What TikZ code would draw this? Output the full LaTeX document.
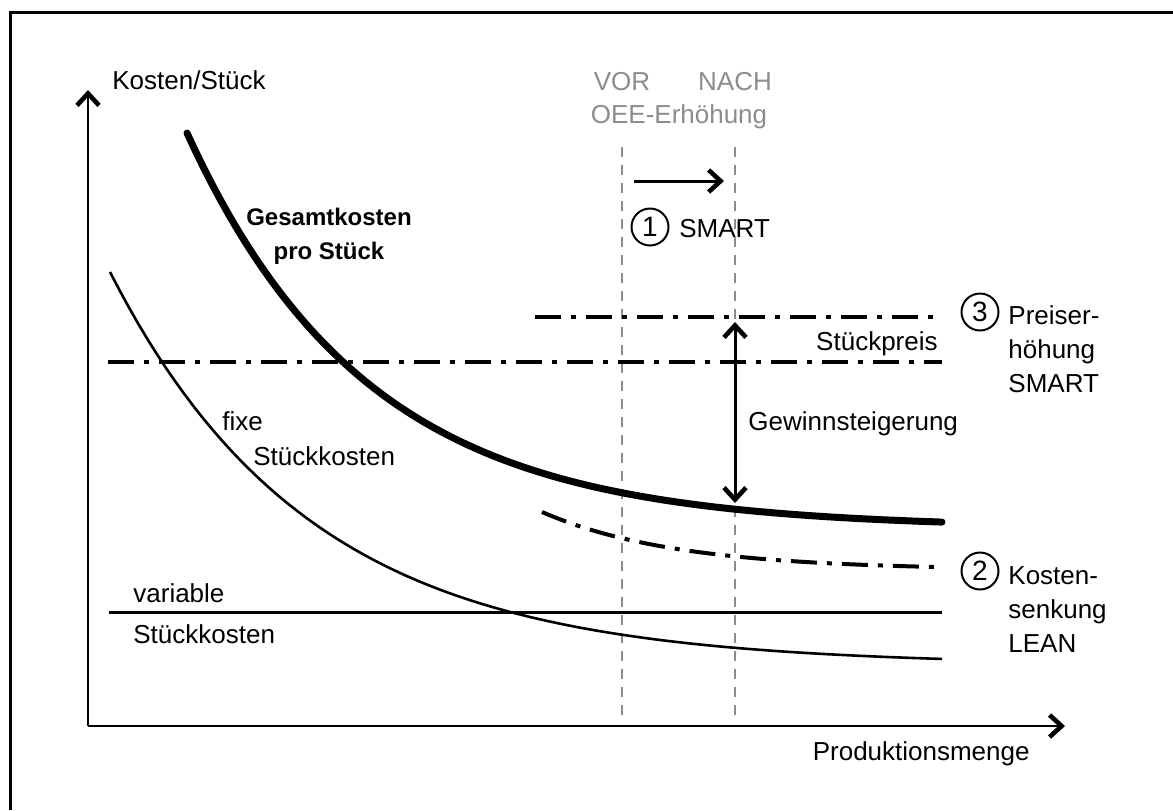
\documentclass[tikz,border=0pt]{standalone}
\usepackage{fontspec}
\setmainfont{Liberation Sans}
\usetikzlibrary{arrows.meta,positioning}
\tikzset{
	spitze/.tip={Straight Barb[length=6pt,width=11pt,line width=2.3pt]},
	pfeil/.style={-spitze},
	doppelpfeil/.style={spitze-spitze},
	hilfslinie/.style={black!45,line width=1pt,dash pattern=on 5pt off 4pt},
	strichpunkt/.style={line width=2pt,dash pattern=on 13pt off 5pt on 2.5pt off 5pt},
	txt/.style={inner sep=0pt,font=\fontsize{13}{17}\selectfont},
	nr/.style={circle,draw,line width=1pt,inner sep=0pt,minimum size=18.5pt,font=\fontsize{14}{14}\selectfont},
}
\begin{document}
\begin{tikzpicture}[x=.5pt,y=-.5pt]
	\useasboundingbox (0,0) rectangle (1173,810);
	\def\ende{942}
	%\def\mitte{679}
	
	\draw[line width=1.5pt] (10,810) -- (10,12) -- (1173,12);
	
	\coordinate (ursp) at (88,726);
	\coordinate (yspitze) at (88,90);
	\coordinate (xspitze) at (1065,726);
	\draw[pfeil,line width=1.3pt] (ursp) -- (yspitze);
	\draw[pfeil,line width=1.3pt] (ursp) -- (xspitze);
	\node[txt,anchor=base west] (ylab) at (112,89) {Kosten/Stück};
	\node[txt,anchor=base east] (xlab) at (1030,760) {Produktionsmenge};
	
	% vorher / nachher
	\coordinate (vor) at (622,147);
	\coordinate (vorunten) at (622,722);
	\coordinate (nach) at (735,147);
	\coordinate (nachunten) at (735,722);
	\draw[hilfslinie] (vor) -- (vorunten);
	\draw[hilfslinie] (nach) -- (nachunten);
	\node[txt,anchor=base,black!45] (vortxt) at (622,90) {VOR};
	\node[txt,anchor=base,black!45] (nachtxt) at (735,90) {NACH};
	\node[txt,anchor=base,black!45] (oee) at (679,123) {OEE-Erhöhung};
	\coordinate (pa) at (634,181);
	\coordinate (pb) at (724,181);
	\draw[pfeil,line width=1.5pt] (pa) -- (pb);
	\node[nr] (eins) at (650,227) {1};
	\node[txt,anchor=base west] (smart) at (679,237) {SMART};
	
	% Stueckpreis
	\coordinate (preisneu) at (535,317);
	\coordinate (preisneuende) at (\ende,317);
	\coordinate (preis) at (108,362);
	\coordinate (preisende) at (\ende,362);
	\draw[strichpunkt] (preisneu) -- (preisneuende);
	\draw[strichpunkt] (preis) -- (preisende);
	\node[txt,anchor=base east] (stp) at (938,350) {Stückpreis};
	\node[nr] (drei) at (980,312) {3};
	\node[txt,anchor=north west,align=left] (erh) at (1008,305) {Preiser-\\höhung\\SMART};
	
	% Kurven
	\draw[line width=3.5pt,line cap=round] plot[domain=187:\ende,samples=90] (\x,{528-395*exp(-0.00555*(\x-187))});
	\draw[line width=1.3pt] plot[domain=110:\ende,samples=90] (\x,{665-393*exp(-0.005*(\x-110))});
	\draw[strichpunkt] plot[domain=542:\ende,samples=60] (\x,{570-58*exp(-0.0075*(\x-542))});
	\coordinate (varl) at (109,612);
	\coordinate (varr) at (\ende,612);
	\draw[line width=1.5pt] (varl) -- (varr);
	
	\coordinate (gob) at (735,322);
	\coordinate (gun) at (735,503);
	\draw[doppelpfeil,line width=1.5pt] (gob) -- (gun);
	\node[txt,anchor=base west] (gew) at (748,430) {Gewinnsteigerung};
	
	\node[txt,anchor=north,align=center,font=\fontsize{12}{17}\selectfont\bfseries] (gesamt) at (329,208) {Gesamtkosten\\pro Stück};
	\node[txt,anchor=base west] (fixe) at (222,430) {fixe};
	\node[txt,anchor=base west] (fixst) at (253,465) {Stückkosten};
	\node[txt,anchor=base west] (var) at (133,602) {variable};
	\node[txt,anchor=base west] (varst) at (133,643) {Stückkosten};
	\node[nr] (zwei) at (980,571) {2};
	\node[txt,anchor=north west,align=left] (senk) at (1008,566) {Kosten-\\senkung\\LEAN};
\end{tikzpicture}
\end{document}
